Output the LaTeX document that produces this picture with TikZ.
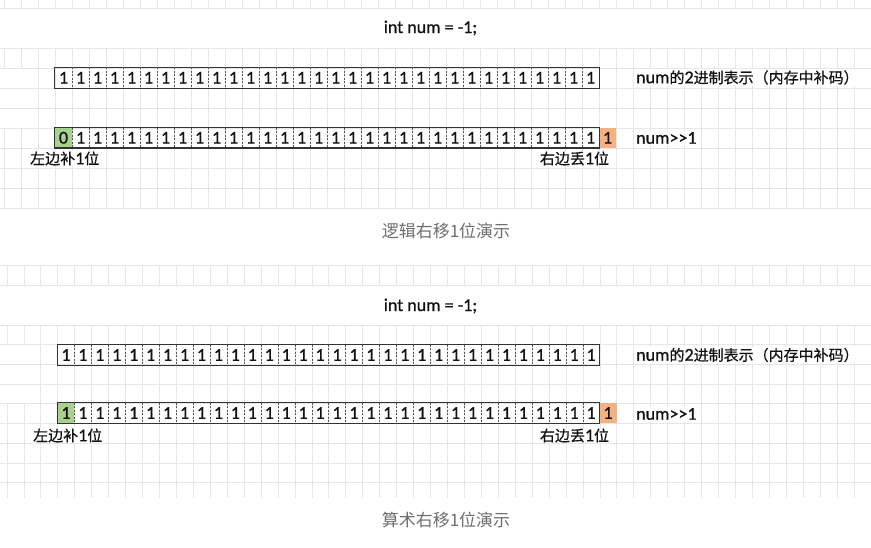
\documentclass[tikz,border=0pt]{standalone}
\usepackage{fontspec}
\setmainfont{Carlito}
\newfontfamily\cjkf{Noto Sans CJK SC}
\newfontfamily\cjkb[FakeBold=0.6]{Noto Sans CJK SC}
\newfontfamily\latf[FakeBold=0.8]{Carlito}
\newcommand\latt[1]{{\latf\fontsize{18}{20}\selectfont #1}}
\newcommand\cjkt[1]{{\cjkb\fontsize{15}{20}\selectfont #1}}
\definecolor{gridc}{HTML}{E6E6E6}
\definecolor{boxc}{HTML}{333333}
\definecolor{divc}{HTML}{555555}
\definecolor{greenc}{HTML}{A9D18E}
\definecolor{orangec}{HTML}{F4B183}
\definecolor{capc}{HTML}{6E6E6E}
\definecolor{txtc}{HTML}{111111}
\tikzset{
  gridline/.style={draw=gridc, line width=0.8pt},
  bit/.style={minimum width=17pt, minimum height=20.5pt, inner sep=0pt,
    font=\latf\fontsize{18}{18}\selectfont, text=txtc},
  bitb/.style={bit, minimum width=16.94pt},
  greencell/.style={fill=greenc},
  orangecell/.style={fill=orangec},
  boxline/.style={draw=boxc, line width=1.2pt},
  divline/.style={draw=divc, line width=0.6pt, dash pattern=on 2pt off 1.5pt},
  lbl/.style={inner sep=1pt, fill=white, text=txtc},
  titlelbl/.style={inner sep=0pt, text=txtc, font=\latf\fontsize{18}{20}\selectfont},
  caplbl/.style={inner sep=0pt, text=capc, font=\cjkf\fontsize{17}{20}\selectfont}
}
\begin{document}
\begin{tikzpicture}[x=1pt,y=-1pt]
\useasboundingbox (0,0) rectangle (871,547);
\fill[white] (0,0) rectangle (871,547);
% ---------- grid, section 1 ----------
\foreach \y in {8,48,68,88,108,128,148,168,188,208}
  \draw[gridline] (0,\y) -- (871,\y);
\foreach \k in {0,...,51}{
  \pgfmathsetmacro\xx{4+17*\k}
  \draw[gridline] (\xx,0) -- (\xx,8);
  \ifnum\k<2
    \draw[gridline] (\xx,48) -- (\xx,68);
    \draw[gridline] (\xx,128) -- (\xx,208);
  \else
    \draw[gridline] (\xx,48) -- (\xx,208);
  \fi
}
% ---------- grid, section 2 ----------
\foreach \y in {265,285,325,344.5,364,384,403,423,443,463,482}
  \draw[gridline] (0,\y) -- (871,\y);
\foreach \k in {0,...,51}{
  \pgfmathsetmacro\xx{7+16.94*\k}
  \draw[gridline] (\xx,265) -- (\xx,285);
  \ifnum\k<2
    \draw[gridline] (\xx,325) -- (\xx,344.5);
    \draw[gridline] (\xx,403) -- (\xx,498);
  \else
    \draw[gridline] (\xx,325) -- (\xx,498);
  \fi
}
% ---------- section 1 ----------
\node[titlelbl] (t1) at (430.5,28) {int num = -1;};
\foreach \i in {0,...,31}
  \node[bit] (a\i) at ({55+17*\i+8.5},77.75) {1};
\draw[boxline] (a0.north west) rectangle (a31.south east);
\foreach \i in {0,...,30}
  \draw[divline] (a\i.north east) -- (a\i.south east);
\node[lbl, anchor=west] (l1) at (635,77.5) {\latt{num}\cjkt{的}\latt{2}\cjkt{进制表示（内存中补码）}};

\node[bit, greencell, minimum height=20pt] (b0) at (63.5,137.8) {0};
\foreach \i in {1,...,31}
  \node[bit, minimum height=20pt] (b\i) at ({55+17*\i+8.5},137.8) {1};
\node[bit, orangecell, minimum height=20pt] (b32) at ({55+17*32+8.5},137.8) {1};
\draw[boxline] (b0.north west) rectangle (b31.south east);
\foreach \i in {0,...,30}
  \draw[divline] (b\i.north east) -- (b\i.south east);
\node[lbl, anchor=west] (n1) at (635,138) {\latt{num>{}>1}};
\node[lbl, anchor=west] (z1) at (29,158.5) {\cjkt{左边补}\latt{1}\cjkt{位}};
\node[lbl, anchor=center] (y1) at (574.5,158.5) {\cjkt{右边丢}\latt{1}\cjkt{位}};
\node[caplbl] (c1) at (446,231) {逻辑右移1位演示};

% ---------- section 2 ----------
\node[titlelbl] (t2) at (430.5,306) {int num = -1;};
\foreach \i in {0,...,31}
  \node[bitb] (p\i) at ({57.5+16.94*\i+8.47},355) {1};
\draw[boxline] (p0.north west) rectangle (p31.south east);
\foreach \i in {0,...,30}
  \draw[divline] (p\i.north east) -- (p\i.south east);
\node[lbl, anchor=west] (l2) at (635,355) {\latt{num}\cjkt{的}\latt{2}\cjkt{进制表示（内存中补码）}};

\node[bitb, greencell, minimum height=20pt] (q0) at ({57.5+8.47},413) {1};
\foreach \i in {1,...,31}
  \node[bitb, minimum height=20pt] (q\i) at ({57.5+16.94*\i+8.47},413) {1};
\node[bitb, orangecell, minimum height=20pt] (q32) at ({57.5+16.94*32+8.47},413) {1};
\draw[boxline] (q0.north west) rectangle (q31.south east);
\foreach \i in {0,...,30}
  \draw[divline] (q\i.north east) -- (q\i.south east);
\node[lbl, anchor=west] (n2) at (635,414) {\latt{num>{}>1}};
\node[lbl, anchor=west] (z2) at (32,435.5) {\cjkt{左边补}\latt{1}\cjkt{位}};
\node[lbl, anchor=center] (y2) at (574.5,435.5) {\cjkt{右边丢}\latt{1}\cjkt{位}};
\node[caplbl] (c2) at (446,520) {算术右移1位演示};
\end{tikzpicture}
\end{document}
